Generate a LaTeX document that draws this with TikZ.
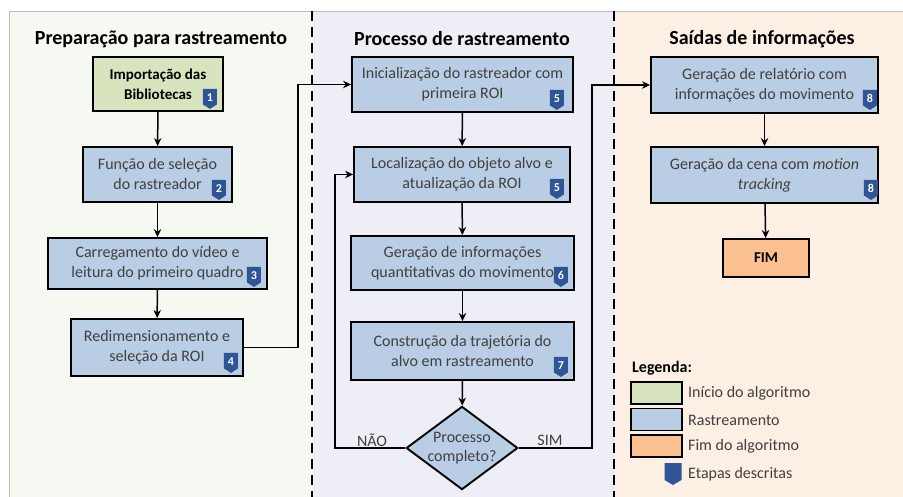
\documentclass[tikz,border=0pt]{standalone}
\usepackage{fontspec}
\setmainfont{Carlito}
\usetikzlibrary{arrows.meta,shapes.geometric}
\definecolor{boxblue}{HTML}{B9CDE5}
\definecolor{boxgreen}{HTML}{D7E4BD}
\definecolor{boxorange}{HTML}{FAC090}
\definecolor{badgeblue}{HTML}{2F5597}
\definecolor{txtgray}{HTML}{404040}
\definecolor{bgleft}{HTML}{F6F8F2}
\definecolor{bgmid}{HTML}{EEEEF6}
\definecolor{bgright}{HTML}{FCEFE4}
\begin{document}
\begin{tikzpicture}[x=1pt,y=-1pt,
  box/.style={draw=black,line width=1.9pt,fill=boxblue,align=center,text=txtgray,
    font=\fontsize{16}{20}\selectfont,inner sep=0pt},
  boldtxt/.style={text=black,font=\bfseries\fontsize{15}{20}\selectfont},
  title/.style={font=\bfseries\fontsize{20}{20}\selectfont,text=black},
  arr/.style={line width=1.5pt,-{Stealth[length=8pt,width=7.5pt]}},
  sep/.style={line width=2.6pt,dash pattern=on 10pt off 6pt},
  lbl/.style={text=txtgray,font=\fontsize{16}{16}\selectfont},
  swatch/.style={draw=black,line width=1.5pt,minimum width=51pt,minimum height=22pt,inner sep=0pt},
  pics/badge/.style={code={
    \fill[badgeblue] (-7,-10) -- (7,-10) -- (7,5.5) -- (0,10) -- (-7,5.5) -- cycle;
    \node[text=white,inner sep=0pt,font=\bfseries\fontsize{12}{12}\selectfont] (-n) at (0,-1.5) {#1};}},
  pics/bigbadge/.style={code={
    \fill[badgeblue] (-8.5,-11) -- (8.5,-11) -- (8.5,6) -- (0,11) -- (-8.5,6) -- cycle;}}
]
\useasboundingbox (0,0) rectangle (903,497);
% panels
\fill[white] (0,0) rectangle (903,497);
\fill[bgleft] (9,11) rectangle (312,497);
\fill[bgmid] (312,11) rectangle (614,497);
\fill[bgright] (614,11) rectangle (903,497);
\draw[black!25,line width=0.8pt] (9,497) -- (9,11) -- (903,11);
\draw[sep] (312,11) -- (312,497);
\draw[sep] (614,11) -- (614,497);
% titles
\node[title] (t1) at (161,39) {Preparação para rastreamento};
\node[title] (t2) at (462,39) {Processo de rastreamento};
\node[title] (t3) at (762,39) {Saídas de informações};
% left column
\node[box,boldtxt,fill=boxgreen,minimum width=130pt,minimum height=54pt] (b1) at (158,84) {Importação das\\Bibliotecas};
\node[box,minimum width=149pt,minimum height=55pt] (b2) at (157.5,174.5) {Função de seleção\\do rastreador};
\node[box,minimum width=219pt,minimum height=51pt] (b3) at (157.5,263.5) {Carregamento do vídeo e\\leitura do primeiro\ quadro};
\node[box,minimum width=172pt,minimum height=57pt] (b4) at (157,347.5) {Redimensionamento e\\seleção da ROI};
% middle column
\node[box,minimum width=221pt,minimum height=55pt] (b5a) at (462.5,84.5) {Inicialização do rastreador com\\primeira ROI};
\node[box,minimum width=216pt,minimum height=55pt] (b5b) at (462,174.5) {Localização do objeto alvo e\\atualização da ROI};
\node[box,minimum width=223pt,minimum height=54pt] (b6) at (462.5,263) {Geração de informações\\quantitativas do movimento};
\node[box,minimum width=223pt,minimum height=58pt] (b7) at (462.5,351) {Construção da trajetória do\\alvo em rastreamento};
\node[box,diamond,aspect=1.34,minimum width=110pt,minimum height=82pt,font=\fontsize{16}{19}\selectfont] (d) at (462,448) {Processo\\completo?};
% right column
\node[box,minimum width=227pt,minimum height=56pt] (b8a) at (764.5,85) {Geração de relatório com\\informações do movimento};
\node[box,minimum width=227pt,minimum height=56pt] (b8b) at (764.5,175) {Geração da cena com \textit{motion}\\\textit{tracking}};
\node[box,boldtxt,fill=boxorange,minimum width=86pt,minimum height=38pt] (fim) at (766,258) {FIM};
% badges
\pic (p1) at ([xshift=-14pt,yshift=13pt]b1.south east) {badge=1};
\pic (p2) at ([xshift=-14pt,yshift=13pt]b2.south east) {badge=2};
\pic (p3) at ([xshift=-14pt,yshift=13pt]b3.south east) {badge=3};
\pic (p4) at ([xshift=-13pt,yshift=14pt]b4.south east) {badge=4};
\pic (p5a) at ([xshift=-17pt,yshift=13pt]b5a.south east) {badge=5};
\pic (p5b) at ([xshift=-14pt,yshift=14pt]b5b.south east) {badge=5};
\pic (p6) at ([xshift=-14pt,yshift=14pt]b6.south east) {badge=6};
\pic (p7) at ([xshift=-14pt,yshift=14pt]b7.south east) {badge=7};
\pic (p8a) at ([xshift=-9pt,yshift=14pt]b8a.south east) {badge=8};
\pic (p8b) at ([xshift=-8pt,yshift=14pt]b8b.south east) {badge=8};
% connectors
\draw[arr] (b1) -- (b2);
\draw[arr] (b2) -- (b3);
\draw[arr] (b3) -- (b4);
\coordinate (c1) at (298,200);
\draw[arr] (b4.east) -| (c1) |- (b5a.west);
\draw[arr] (b5a) -- (b5b);
\draw[arr] (b5b) -- (b6);
\draw[arr] (b6) -- (b7);
\draw[arr] (b7) -- (d);
\coordinate (c2) at (335,300);
\coordinate (c3) at (592,300);
\draw[arr] (d.west) -| (c2) |- (b5b.west);
\draw[arr] (d.east) -| (c3) |- (b8a.west);
\draw[arr] (b8a) -- (b8b);
\draw[arr] (b8b) -- (fim);
\node[lbl] (nao) at (372,440) {NÃO};
\node[lbl] (sim) at (550,440) {SIM};
% legend
\node[anchor=west,inner sep=0pt,font=\bfseries\fontsize{16}{16}\selectfont] (leg) at (632,368) {Legenda:};
\node[swatch,fill=boxgreen] (s1) at (656.5,393) {};
\node[swatch,fill=boxblue] (s2) at (656.5,419.5) {};
\node[swatch,fill=boxorange] (s3) at (656.5,446) {};
\node[lbl,anchor=west,inner sep=0pt] (l1) at (688,393) {Início do algoritmo};
\node[lbl,anchor=west,inner sep=0pt] (l2) at (688,420) {Rastreamento};
\node[lbl,anchor=west,inner sep=0pt] (l3) at (688,446) {Fim do algoritmo};
\pic (pl) at (673,474) {bigbadge};
\node[lbl,anchor=west,inner sep=0pt] (l4) at (688,474) {Etapas descritas};
\end{tikzpicture}
\end{document}
